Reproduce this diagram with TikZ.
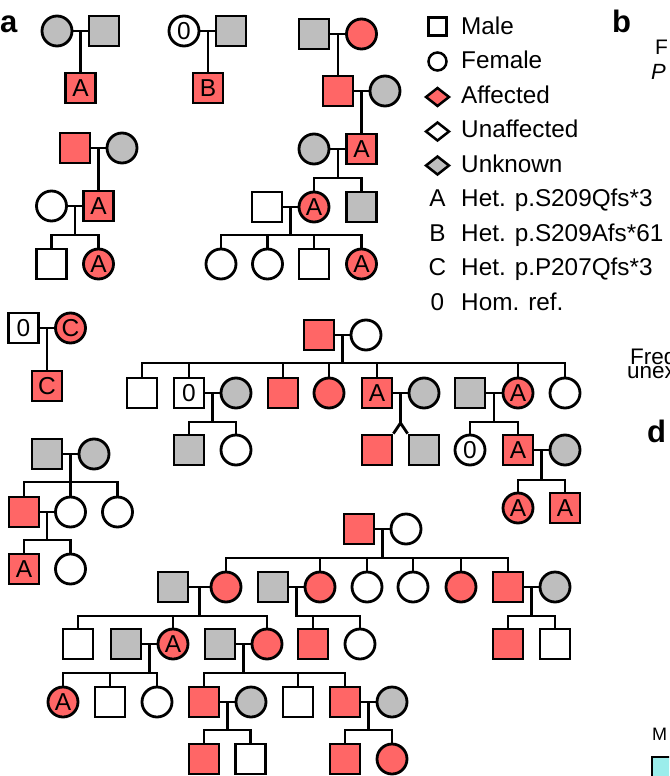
\documentclass[tikz,border=0pt]{standalone}
\usepackage{fontspec}
\setmainfont{Liberation Sans}
\usetikzlibrary{shapes.geometric}
\definecolor{aff}{HTML}{FF6666}
\definecolor{unk}{HTML}{BEBEBE}
\definecolor{cyb}{HTML}{9BEDEB}
\newcommand\myfs[1]{\fontsize{#1}{#1}\selectfont}
\tikzset{
 ind/.style={draw,line width=2.8pt,minimum size=30pt,inner sep=0pt,font=\myfs{24.5}},
 ma/.style={ind,rectangle},
 fe/.style={ind,circle},
 af/.style={fill=aff}, un/.style={fill=unk}, wh/.style={fill=white},
 ln/.style={line width=2.8pt},
 lg/.style={anchor=base west,font=\myfs{24.3},inner sep=0pt},
 lsym/.style={draw,line width=2.5pt,inner sep=0pt},
 pl/.style={font=\bfseries\myfs{31},anchor=base west,inner sep=0pt},
}
\begin{document}
\begin{tikzpicture}[x=1pt,y=-1pt]
\useasboundingbox (0,0) rectangle (669,776);
\clip (0,0) rectangle (669,776);
% panel labels
\node[pl] (la) at (0,33) {a};
\node[pl] (lb) at (612,33) {b};
\node[pl] (ld) at (647,442) {d};
% cut-off texts at right edge
\node[lg,font=\myfs{21}] (tf) at (655,55) {F};
\node[lg,font=\itshape\myfs{22}] (tp) at (651,80) {P};
\node[lg,font=\myfs{22.5}] (tfr) at (630,364.5) {Freq};
\node[lg,font=\myfs{22.5}] (tun) at (627,378) {unex};
\node[lg,font=\myfs{18}] (tm) at (652,740) {M};
\node[draw,fill=cyb,line width=2.4pt,minimum size=40pt,anchor=north west] (cy) at (651,756) {};

% ---------- pedigree 1
\node[fe,un] (a1) at (57,31) {};
\node[ma,un] (a2) at (104,31) {};
\node[ma,af] (a3) at (80.5,88) {A};
\draw[ln] (a1) -- (a2);
\draw[ln] (a3) -- (a3 |- a1);
% ---------- pedigree 2
\node[fe,wh] (b1) at (184,31) {0};
\node[ma,un] (b2) at (231,31) {};
\node[ma,af] (b3) at (208,88) {B};
\draw[ln] (b1) -- (b2);
\draw[ln] (b3) -- (b3 |- b1);
% ---------- pedigree 3
\node[ma,af] (c1) at (75,148) {};
\node[fe,un] (c2) at (122,148) {};
\node[ma,af] (c3) at (98.5,206) {A};
\node[fe,wh] (c4) at (51.5,206) {};
\coordinate (c34) at (75,206);
\coordinate (cs) at (75,235);
\node[ma,wh] (c5) at (51.5,264) {};
\node[fe,af] (c6) at (98.5,264) {A};
\draw[ln] (c1) -- (c2);
\draw[ln] (c3) -- (c3 |- c1);
\draw[ln] (c4) -- (c3);
\draw[ln] (c34) -- (cs);
\draw[ln] (c5) |- (cs) -| (c6);
% ---------- pedigree 4
\node[ma,un] (d1) at (314,34) {};
\node[fe,af] (d2) at (361.5,34) {};
\node[ma,af] (d3) at (338,91) {};
\node[fe,un] (d4) at (385,91) {};
\node[fe,un] (d5) at (314,149) {};
\node[ma,af] (d6) at (361.5,149) {A};
\coordinate (d56) at (338,149);
\coordinate (ds1) at (338,178);
\node[ma,wh] (d7) at (267,207) {};
\node[fe,af] (d8) at (314,207) {A};
\node[ma,un] (d9) at (361.5,207) {};
\coordinate (d78) at (290.5,207);
\coordinate (ds2) at (290.5,235);
\node[fe,wh] (d10) at (221,264) {};
\node[fe,wh] (d11) at (267.5,264) {};
\node[ma,wh] (d12) at (314,264) {};
\node[fe,af] (d13) at (361.5,264) {A};
\draw[ln] (d1) -- (d2);
\draw[ln] (d3) -- (d3 |- d1);
\draw[ln] (d3) -- (d4);
\draw[ln] (d6) -- (d6 |- d3);
\draw[ln] (d5) -- (d6);
\draw[ln] (d56) -- (ds1);
\draw[ln] (d8) |- (ds1) -| (d9);
\draw[ln] (d7) -- (d8);
\draw[ln] (d78) -- (ds2);
\draw[ln] (d10) |- (ds2) -| (d13);
\draw[ln] (d11) -- (d11 |- ds2);
\draw[ln] (d12) -- (d12 |- ds2);
% ---------- legend
\node[lsym,rectangle,minimum size=18pt] (l1) at (437.5,26.5) {};
\node[lsym,circle,minimum size=18pt] (l2) at (437.5,61.5) {};
\node[lsym,diamond,minimum width=24pt,minimum height=19pt,fill=aff] (l3) at (437.5,97) {};
\node[lsym,diamond,minimum width=24pt,minimum height=19pt,fill=white] (l4) at (437.5,131.5) {};
\node[lsym,diamond,minimum width=24pt,minimum height=19pt,fill=unk] (l5) at (437.5,165.5) {};
\node[lg] (t1) at (461,35) {Male};
\node[lg] (t2) at (461,69) {Female};
\node[lg] (t3) at (461,103.5) {Affected};
\node[lg] (t4) at (461,137.5) {Unaffected};
\node[lg] (t5) at (461,172) {Unknown};
\node[lg,anchor=base] (k1) at (437.5,206.5) {A};
\node[lg] (t6) at (461,206.5) {Het. p.S209Qfs*3};
\node[lg,anchor=base] (k2) at (437.5,241) {B};
\node[lg] (t7) at (461,241) {Het. p.S209Afs*61};
\node[lg,anchor=base] (k3) at (437.5,275.5) {C};
\node[lg] (t8) at (461,275.5) {Het. p.P207Qfs*3};
\node[lg,anchor=base] (k4) at (437.5,310) {0};
\node[lg] (t9) at (461,310) {Hom. ref.};
% ---------- pedigree 5
\node[ma,wh] (e1) at (23.5,328) {0};
\node[fe,af] (e2) at (70.5,328) {C};
\node[ma,af] (e3) at (47,386) {C};
\draw[ln] (e1) -- (e2);
\draw[ln] (e3) -- (e3 |- e1);
% ---------- pedigree 6
\node[ma,un] (f1) at (47,454) {};
\node[fe,un] (f2) at (94,454) {};
\coordinate (f12) at (70.5,454);
\coordinate (fs1) at (70.5,482);
\node[ma,af] (f3) at (24,512) {};
\node[fe,wh] (f4) at (70.5,512) {};
\node[fe,wh] (f5) at (117.5,512) {};
\coordinate (f34) at (47,512);
\coordinate (fs2) at (47,540);
\node[ma,af] (f6) at (24,569) {A};
\node[fe,wh] (f7) at (70.5,569) {};
\draw[ln] (f1) -- (f2);
\draw[ln] (f12) -- (fs1);
\draw[ln] (f3) |- (fs1) -| (f5);
\draw[ln] (f4) -- (f4 |- fs1);
\draw[ln] (f3) -- (f4);
\draw[ln] (f34) -- (fs2);
\draw[ln] (f6) |- (fs2) -| (f7);
% ---------- pedigree 7
\node[ma,af] (g1) at (319,335) {};
\node[fe,wh] (g2) at (366,335) {};
\coordinate (g12) at (342.5,335);
\coordinate (gs) at (342.5,363);
\node[ma,wh] (g3) at (142,393) {};
\node[ma,wh] (g4) at (189,393) {0};
\node[fe,un] (g5) at (236,393) {};
\node[ma,af] (g6) at (283,393) {};
\node[fe,af] (g7) at (329,393) {};
\node[ma,af] (g8) at (377,393) {A};
\node[fe,un] (g9) at (424,393) {};
\node[ma,un] (g10) at (470,393) {};
\node[fe,af] (g11) at (518,393) {A};
\node[fe,wh] (g12b) at (565,393) {};
\draw[ln] (g1) -- (g2);
\draw[ln] (g12) -- (gs);
\draw[ln] (g3) |- (gs) -| (g12b);
\foreach \n in {g4,g6,g7,g8,g11} \draw[ln] (\n) -- (\n |- gs);
\draw[ln] (g4) -- (g5);
\coordinate (g45) at (212.5,393);
\coordinate (g45s) at (212.5,422);
\node[ma,un] (g13) at (189,450) {};
\node[fe,wh] (g14) at (236,450) {};
\draw[ln] (g45) -- (g45s);
\draw[ln] (g13) |- (g45s) -| (g14);
\draw[ln] (g8) -- (g9);
\coordinate (g89) at (400.5,393);
\coordinate (g89s) at (400.5,423);
\node[ma,af] (g15) at (377,450) {};
\node[ma,un] (g16) at (424,450) {};
\draw[ln] (g89) -- (g89s);
\draw[ln] (g15.north east) -- (g89s) -- (g16.north west);
\draw[ln] (g10) -- (g11);
\coordinate (g1011) at (494,393);
\coordinate (g1011s) at (494,422);
\node[fe,wh] (g17) at (470,450) {0};
\node[ma,af] (g18) at (518,450) {A};
\node[fe,un] (g19) at (565,450) {};
\draw[ln] (g1011) -- (g1011s);
\draw[ln] (g17) |- (g1011s) -| (g18);
\draw[ln] (g18) -- (g19);
\coordinate (g1819) at (541.5,450);
\coordinate (g1819s) at (541.5,480);
\node[fe,af] (g20) at (518,508) {A};
\node[ma,af] (g21) at (565,508) {A};
\draw[ln] (g1819) -- (g1819s);
\draw[ln] (g20) |- (g1819s) -| (g21);
% ---------- pedigree 8
\node[ma,af] (h1) at (359,529) {};
\node[fe,wh] (h2) at (406,529) {};
\coordinate (h12) at (382.5,529);
\coordinate (hs) at (382.5,558);
\node[ma,un] (h3) at (173,587) {};
\node[fe,af] (h4) at (226,587) {};
\node[ma,un] (h5) at (273,587) {};
\node[fe,af] (h6) at (320,587) {};
\node[fe,wh] (h7) at (367,587) {};
\node[fe,wh] (h8) at (413,587) {};
\node[fe,af] (h9) at (461,587) {};
\node[ma,af] (h10) at (508,587) {};
\node[fe,un] (h11) at (555,587) {};
\draw[ln] (h1) -- (h2);
\draw[ln] (h12) -- (hs);
\draw[ln] (h4) |- (hs) -| (h10);
\foreach \n in {h6,h7,h8,h9} \draw[ln] (\n) -- (\n |- hs);
\draw[ln] (h3) -- (h4);
\coordinate (h34) at (199.5,587);
\coordinate (h34s) at (199.5,616);
\node[ma,wh] (h12n) at (78,644) {};
\node[ma,un] (h13) at (126,644) {};
\node[fe,af] (h14) at (173,644) {A};
\node[ma,un] (h15) at (220,644) {};
\node[fe,af] (h16) at (267,644) {};
\draw[ln] (h34) -- (h34s);
\draw[ln] (h12n) |- (h34s) -| (h16);
\draw[ln] (h14) -- (h14 |- h34s);
\draw[ln] (h5) -- (h6);
\coordinate (h56) at (296.5,587);
\coordinate (h56s) at (296.5,616);
\node[ma,af] (h17) at (313,644) {};
\node[fe,wh] (h18) at (360,644) {};
\draw[ln] (h56) -- (h56s) -| (h18);
\draw[ln] (h17) -- (h17 |- h56s);
\draw[ln] (h10) -- (h11);
\coordinate (h1011) at (531.5,587);
\coordinate (h1011s) at (531.5,616);
\node[ma,af] (h19) at (508,644) {};
\node[ma,wh] (h20) at (555,644) {};
\draw[ln] (h1011) -- (h1011s);
\draw[ln] (h19) |- (h1011s) -| (h20);
\draw[ln] (h13) -- (h14);
\coordinate (h1314) at (149.5,644);
\coordinate (h1314s) at (149.5,673);
\node[fe,af] (h21) at (63,702) {A};
\node[ma,wh] (h22) at (110,702) {};
\node[fe,wh] (h23) at (157,702) {};
\draw[ln] (h1314) -- (h1314s);
\draw[ln] (h21) |- (h1314s) -| (h23);
\draw[ln] (h22) -- (h22 |- h1314s);
\draw[ln] (h15) -- (h16);
\coordinate (h1516) at (243.5,644);
\coordinate (h1516s) at (243.5,673);
\node[ma,af] (h24) at (204,702) {};
\node[fe,un] (h25) at (251,702) {};
\node[ma,wh] (h26) at (298,702) {};
\node[ma,af] (h27) at (345,702) {};
\node[fe,un] (h28) at (392,702) {};
\draw[ln] (h1516) -- (h1516s);
\draw[ln] (h24) |- (h1516s) -| (h27);
\draw[ln] (h26) -- (h26 |- h1516s);
\draw[ln] (h24) -- (h25);
\coordinate (h2425) at (227.5,702);
\coordinate (h2425s) at (227.5,730);
\node[ma,af] (h29) at (204,759) {};
\node[ma,wh] (h30) at (250.5,759) {};
\draw[ln] (h2425) -- (h2425s);
\draw[ln] (h29) |- (h2425s) -| (h30);
\draw[ln] (h27) -- (h28);
\coordinate (h2728) at (368.5,702);
\coordinate (h2728s) at (368.5,730);
\node[ma,af] (h31) at (345,759) {};
\node[fe,af] (h32) at (392,759) {};
\draw[ln] (h2728) -- (h2728s);
\draw[ln] (h31) |- (h2728s) -| (h32);
\end{tikzpicture}
\end{document}
